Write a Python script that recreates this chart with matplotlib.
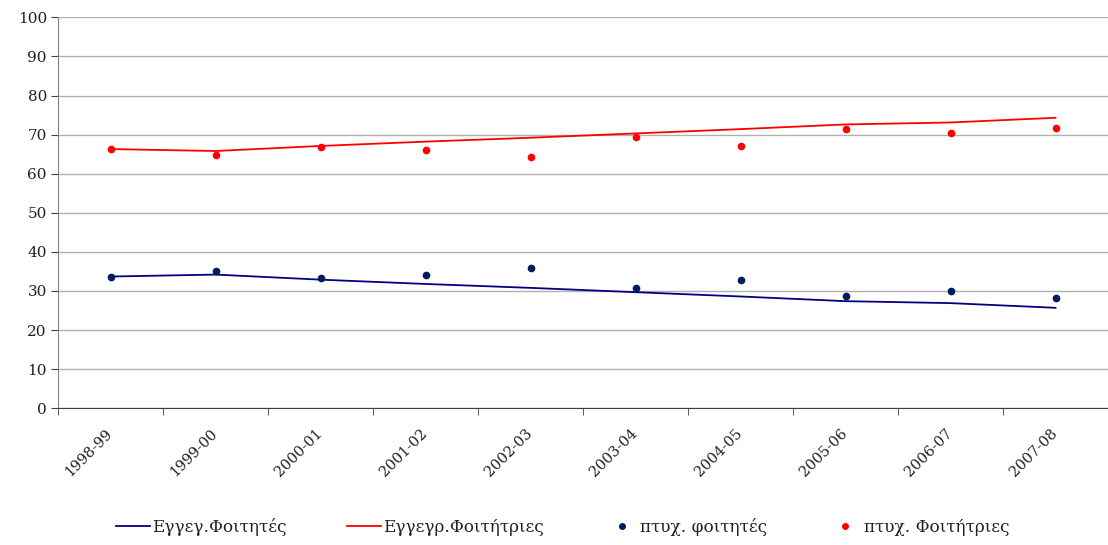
import matplotlib
matplotlib.use('Agg')
import matplotlib.pyplot as plt
from matplotlib.lines import Line2D

etos = ['1998-99', '1999-00', '2000-01', '2001-02', '2002-03',
        '2003-04', '2004-05', '2005-06', '2006-07', '2007-08']

# εγγεγραμμένοι (γραμμές)
eggr_foitites = [33.7, 34.2, 32.9, 31.8, 30.8, 29.7, 28.6, 27.4, 26.9, 25.7]
eggr_foititries = [66.3, 65.8, 67.1, 68.2, 69.2, 70.3, 71.4, 72.6, 73.1, 74.3]

# πτυχιούχοι (σημεία)
ptyx_foitites = [33.7, 35.2, 33.3, 34.1, 35.8, 30.8, 32.9, 28.7, 29.9, 28.3]
ptyx_foititries = [66.3, 64.9, 66.8, 66.0, 64.3, 69.3, 67.2, 71.4, 70.4, 71.8]

plt.rcParams['font.family'] = ['DejaVu Serif']

fig = plt.figure(figsize=(11.08, 5.45), dpi=100)
ax = fig.add_axes([58 / 1108, 1 - 408.3 / 545, 1 - 58 / 1108, (408.3 - 17.3) / 545])

x = [i + 0.5 for i in range(len(etos))]

ax.plot(x, eggr_foitites, color='#000080', lw=1.3)
ax.plot(x, eggr_foititries, color='#ff0000', lw=1.3)
ax.plot(x, ptyx_foitites, 'o', color='#001a5e', ms=4.5)
ax.plot(x, ptyx_foititries, 'o', color='#ff0000', ms=4.5)

ax.set_xlim(0, 10)
ax.set_ylim(0, 100)
ax.set_yticks(range(0, 101, 10))
ax.yaxis.grid(True, color='#b0b0b0', lw=1)
ax.set_axisbelow(True)

ax.set_xticks(x)
ax.set_xticklabels(etos, rotation=45, ha='right', va='center', rotation_mode='anchor')
ax.set_xticks(range(0, 11), minor=True)
ax.tick_params(axis='x', which='major', length=0, pad=16.5, labelsize=10.5, labelcolor='#202020')
ax.tick_params(axis='x', which='minor', length=5, color='#404040')
ax.tick_params(axis='y', length=5, color='#404040', labelsize=11, pad=3, labelcolor='#202020')

for s in ['top', 'right']:
    ax.spines[s].set_visible(False)
ax.spines['left'].set_color('#808080')
ax.spines['bottom'].set_color('#404040')

handles = [
    Line2D([], [], color='#000080', lw=1.3),
    Line2D([], [], color='#ff0000', lw=1.3),
    Line2D([], [], ls='', marker='o', color='#001a5e', ms=4),
    Line2D([], [], ls='', marker='o', color='#ff0000', ms=4),
]
labels = ['Εγγεγ.Φοιτητές', 'Εγγεγρ.Φοιτήτριες', 'πτυχ. φοιτητές', 'πτυχ. Φοιτήτριες']
fig.legend(handles, labels, loc='center', bbox_to_anchor=(0.508, 1 - 527 / 545),
           ncol=4, frameon=False, fontsize=12.2, handlelength=2.0, handletextpad=0.1,
           columnspacing=3.6, labelcolor='#202020')

fig.savefig('out.png', dpi=100)
